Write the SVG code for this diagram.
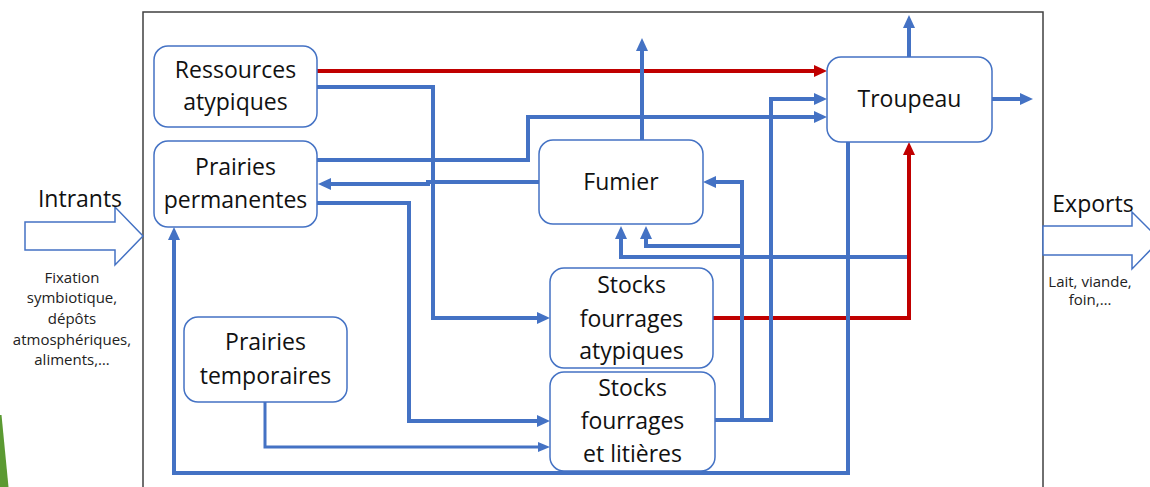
<svg xmlns="http://www.w3.org/2000/svg" width="1150" height="487" viewBox="0 0 1150 487">
<defs>
<style>
.node rect{fill:#fff;stroke:#4472C4;stroke-width:1.5}
.lbl{font-family:"Open Sans","Liberation Sans",sans-serif;font-size:23px;fill:#111;text-anchor:middle}
.small{font-family:"Open Sans","Liberation Sans",sans-serif;font-size:15px;fill:#222;text-anchor:middle}
.side{font-family:"Open Sans","Liberation Sans",sans-serif;font-size:23px;fill:#111;text-anchor:middle}
.b{fill:none;stroke:#4472C4;stroke-width:4;marker-end:url(#ab)}
.bt{fill:none;stroke:#4472C4;stroke-width:3;marker-end:url(#abt)}
.r{fill:none;stroke:#C00000;stroke-width:4;marker-end:url(#ar)}
.blk{fill:#fff;stroke:#4472C4;stroke-width:1.5}
</style>
<marker id="ab" markerUnits="userSpaceOnUse" markerWidth="13" markerHeight="12" viewBox="0 0 13 12" refX="4" refY="6" orient="auto"><path d="M0,0 L13,6 L0,12 z" fill="#4472C4"/></marker>
<marker id="abt" markerUnits="userSpaceOnUse" markerWidth="12" markerHeight="10" viewBox="0 0 12 10" refX="3" refY="5" orient="auto"><path d="M0,0 L12,5 L0,10 z" fill="#4472C4"/></marker>
<marker id="ar" markerUnits="userSpaceOnUse" markerWidth="13" markerHeight="12" viewBox="0 0 13 12" refX="4" refY="6" orient="auto"><path d="M0,0 L13,6 L0,12 z" fill="#C00000"/></marker>
</defs>
<rect width="1150" height="487" fill="#fff"/>
<polygon points="0,415 1.5,415 8.5,487 0,487" fill="#5B9A32"/>
<rect x="143" y="12" width="900" height="500" fill="none" stroke="#404040" stroke-width="1.5"/>

<g id="intrants">
<polygon class="blk" points="25,222 115,222 115,207 143,236 115,265 115,250 25,250"/>
<text class="side" x="80" y="207">Intrants</text>
<text class="small" x="72" y="283">Fixation</text>
<text class="small" x="72" y="303">symbiotique,</text>
<text class="small" x="72" y="324">dépôts</text>
<text class="small" x="72" y="345">atmosphériques,</text>
<text class="small" x="72" y="365">aliments,…</text>
</g>
<g id="exports">
<polygon class="blk" points="1043,226 1132,226 1132,212 1160,240 1132,269 1132,255 1043,255"/>
<text class="side" x="1093" y="212">Exports</text>
<text class="small" x="1090" y="287">Lait, viande,</text>
<text class="small" x="1090" y="305">foin,…</text>
</g>

<g id="connectors">
<path class="r" d="M317,71 H818"/>
<path class="r" d="M713,318 H909 V151"/>
<path class="b" d="M317,87 H433 V318 H541"/>
<path class="b" d="M317,160 H528 V117 H818"/>
<path class="b" d="M539,182 H428 V184 H327"/>
<path class="b" d="M317,203 H409 V421 H541"/>
<path class="bt" d="M265,402 V447 H541"/>
<path class="b" d="M848,142 V473 H174 V236"/>
<path class="b" d="M909,57 V24"/>
<path class="b" d="M992,99 H1024"/>
<path class="b" d="M642,140 V47"/>
<path class="b" d="M715,420 H771 V99 H818"/>
<path class="b" d="M715,420 H742 V182 H712"/>
<path class="b" d="M742,246 H646 V235"/>
<path class="b" d="M907,257 H621 V235"/>
</g>

<g id="ressources" class="node">
<rect x="154" y="46" width="163" height="81" rx="14"/>
<text class="lbl" x="235.5" y="78">Ressources</text>
<text class="lbl" x="235.5" y="110">atypiques</text>
</g>
<g id="prairies-permanentes" class="node">
<rect x="154" y="141" width="163" height="86" rx="14"/>
<text class="lbl" x="235.5" y="175">Prairies</text>
<text class="lbl" x="235.5" y="208">permanentes</text>
</g>
<g id="fumier" class="node">
<rect x="539" y="140" width="164" height="84" rx="14"/>
<text class="lbl" x="621" y="190">Fumier</text>
</g>
<g id="troupeau" class="node">
<rect x="827" y="57" width="165" height="85" rx="14"/>
<text class="lbl" x="909.5" y="107">Troupeau</text>
</g>
<g id="stocks-atypiques" class="node">
<rect x="550" y="268" width="163" height="100" rx="14"/>
<text class="lbl" x="631.5" y="293">Stocks</text>
<text class="lbl" x="631.5" y="327">fourrages</text>
<text class="lbl" x="631.5" y="359">atypiques</text>
</g>
<g id="stocks-litieres" class="node">
<rect x="550" y="372" width="165" height="99" rx="14"/>
<text class="lbl" x="632.5" y="396">Stocks</text>
<text class="lbl" x="632.5" y="429">fourrages</text>
<text class="lbl" x="632.5" y="462">et litières</text>
</g>
<g id="prairies-temporaires" class="node">
<rect x="184" y="317" width="163" height="85" rx="14"/>
<text class="lbl" x="265.5" y="350">Prairies</text>
<text class="lbl" x="265.5" y="384">temporaires</text>
</g>
</svg>
